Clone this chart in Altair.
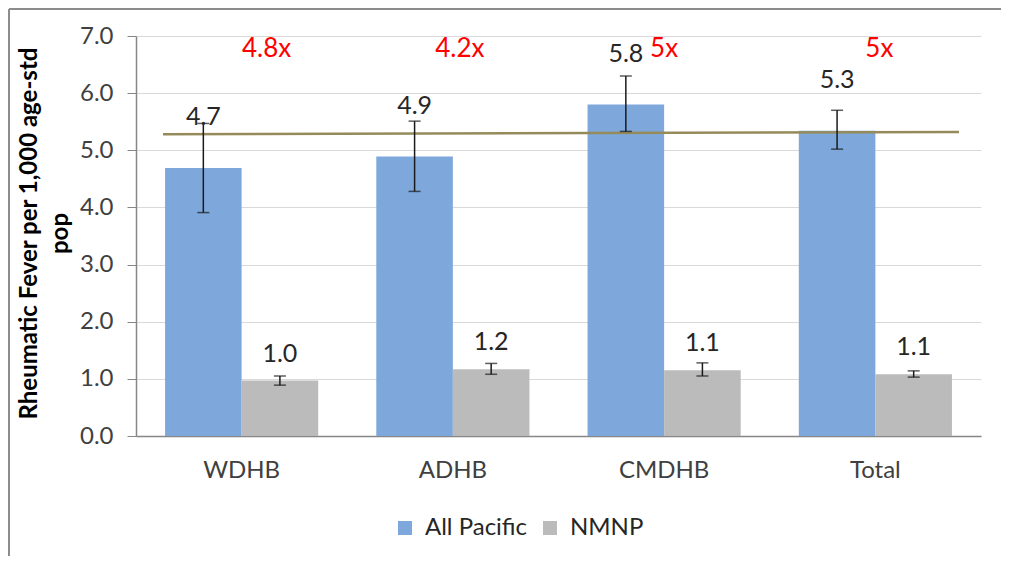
import altair as alt
import pandas as pd

categories = ["WDHB", "ADHB", "CMDHB", "Total"]
series = ["All Pacific", "NMNP"]
pacific = [4.69, 4.89, 5.80, 5.34]
nmnp = [0.97, 1.17, 1.15, 1.08]
pacific_lo = [3.91, 4.28, 5.33, 5.02]
pacific_hi = [5.47, 5.51, 6.30, 5.70]
nmnp_lo = [0.89, 1.08, 1.05, 1.03]
nmnp_hi = [1.05, 1.27, 1.28, 1.14]
ratio_labels = ["4.8x", "4.2x", "5x", "5x"]
ratio_y = 6.77
ref_line = [5.28, 5.32]
colors = ["#7EA8DC", "#BBBBBB"]

rows = []
for i, c in enumerate(categories):
    rows.append({"cat": c, "series": series[0], "value": pacific[i], "lo": pacific_lo[i], "hi": pacific_hi[i]})
    rows.append({"cat": c, "series": series[1], "value": nmnp[i], "lo": nmnp_lo[i], "hi": nmnp_hi[i]})
df = pd.DataFrame(rows)
ratio_df = pd.DataFrame({"cat": categories, "label": ratio_labels, "y": [ratio_y] * 4})
line_df = pd.DataFrame({"y": [ref_line[0]], "y2": [ref_line[1]]})

FONT = "Lato"

x_enc = alt.X("cat:N", sort=categories,
              scale=alt.Scale(paddingInner=0.275, paddingOuter=0.1375),
              axis=alt.Axis(title=None, labelAngle=0, ticks=False, domainColor="#868686",
                            domainWidth=1.5, labelFontSize=24, labelPadding=22,
                            labelColor="#404040", labelFont=FONT))
xo_enc = alt.XOffset("series:N", sort=series, scale=alt.Scale(paddingInner=0, paddingOuter=0))

y_axis = alt.Axis(values=[0, 1, 2, 3, 4, 5, 6, 7], format=".1f", gridColor="#d9d9d9",
                  domainColor="#868686", tickColor="#868686", tickSize=9, domainWidth=1.5,
                  labelFontSize=24, labelPadding=14, labelColor="#404040", labelFont=FONT,
                  title=["Rheumatic Fever per 1,000 age-std", "pop"], titleFontSize=24,
                  titleFontWeight="bold", titleColor="#000000", titleFont=FONT,
                  titleX=-100, titleY=197, titleBaseline="alphabetic", titleAlign="center",
                  titleAngle=270, titleLineHeight=31)

base = alt.Chart(df)

bars = base.mark_bar().encode(
    x=x_enc, xOffset=xo_enc,
    y=alt.Y("value:Q", scale=alt.Scale(domain=[0, 7], nice=False), axis=y_axis),
    color=alt.Color("series:N", sort=series,
                    scale=alt.Scale(domain=series, range=colors),
                    legend=alt.Legend(title=None, orient="none", legendX=257, legendY=480,
                                      direction="horizontal", symbolType="square",
                                      symbolSize=196, symbolStrokeWidth=0, labelFontSize=24,
                                      labelFont=FONT, labelColor="#262626", labelOffset=8,
                                      columnPadding=10)),
)

one = pd.DataFrame({"a": [0]})
frame_top = alt.Chart(one).mark_rule(color="#8c8c8c", strokeWidth=2).encode(
    x=alt.value(-127), x2=alt.value(870), y=alt.value(-27))
frame_left = alt.Chart(one).mark_rule(color="#8c8c8c", strokeWidth=2).encode(
    x=alt.value(-127), y=alt.value(-27), y2=alt.value(530))

ref = alt.Chart(line_df).mark_rule(color="#958B5A", strokeWidth=2.5).encode(
    x=alt.value(27), x2=alt.value(823), y="y:Q", y2="y2:Q")

err = base.mark_rule(color="#1a1a1a", strokeWidth=1.5).encode(
    x=x_enc, xOffset=xo_enc, y="lo:Q", y2="hi:Q")
cap_hi = base.mark_tick(color="#1a1a1a", thickness=1.5, size=12).encode(
    x=x_enc, xOffset=xo_enc, y="hi:Q")
cap_lo = base.mark_tick(color="#1a1a1a", thickness=1.5, size=12).encode(
    x=x_enc, xOffset=xo_enc, y="lo:Q")

val_enc = dict(x=x_enc, xOffset=xo_enc, y="value:Q", text=alt.Text("value:Q", format=".1f"))
vals_p = base.transform_filter(alt.datum.series == series[0]).mark_text(
    baseline="middle", dy=-51, fontSize=25, font=FONT, color="#262626").encode(**val_enc)
vals_n = base.transform_filter(alt.datum.series == series[1]).mark_text(
    baseline="middle", dy=-27, fontSize=25, font=FONT, color="#262626").encode(**val_enc)

ratio_shift = {"WDHB": 25, "ADHB": 7, "CMDHB": 0, "Total": 4}
ratio_layers = [
    alt.Chart(ratio_df).transform_filter(alt.datum.cat == c).mark_text(
        baseline="middle", fontSize=26, font=FONT, color="#FF0000", dx=d
    ).encode(x=x_enc, y="y:Q", text="label:N")
    for c, d in ratio_shift.items()
]

chart = alt.layer(frame_top, frame_left, bars, ref, err, cap_hi, cap_lo, vals_p, vals_n,
                  *ratio_layers).properties(
    width=845, height=400,
    autosize=alt.AutoSizeParams(type="none"),
    padding={"left": 128, "top": 28, "right": 20, "bottom": 120},
).configure_view(stroke=None)

chart.save("out.html", embed_options={"renderer": "svg", "actions": False})
